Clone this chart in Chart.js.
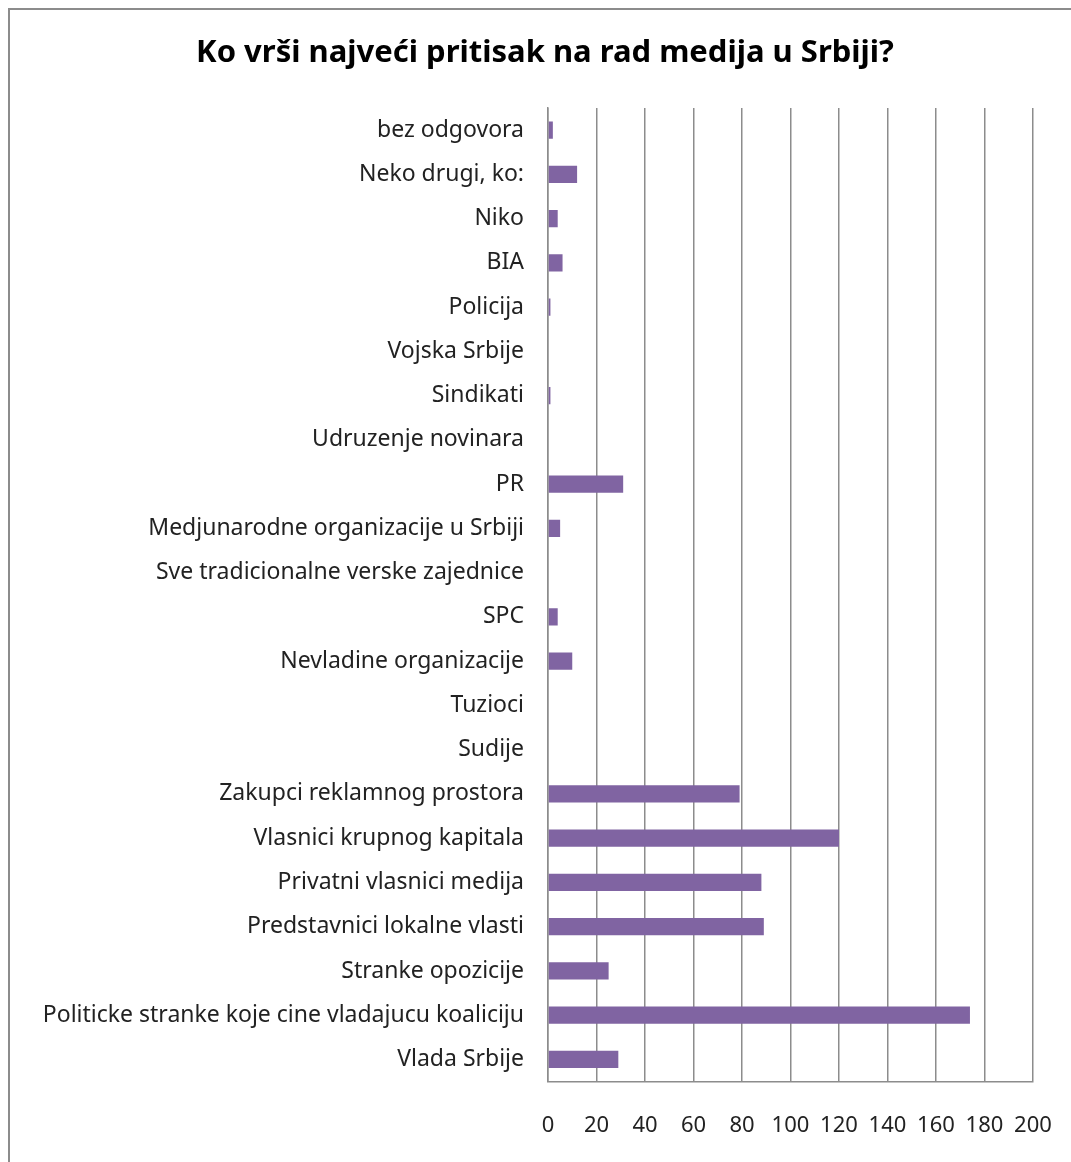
<!DOCTYPE html>
<html>
<head>
<meta charset="utf-8">
<script src="https://cdn.jsdelivr.net/npm/chart.js@4.4.0/dist/chart.umd.min.js"></script>
<style>
  html, body { margin: 0; padding: 0; background: #fff; overflow: hidden; }
  #wrap { position: relative; width: 1071px; height: 1162px; overflow: hidden; }
  #frame { position: absolute; left: 8px; top: 8px; width: 1100px; height: 1200px; border: 2px solid #8c8c8c; box-sizing: border-box; }
  canvas { position: absolute; left: 0; top: 0; }
</style>
</head>
<body>
<div id="wrap">
  <div id="frame"></div>
  <canvas id="chart" width="1071" height="1170"></canvas>
</div>
<script>
// kategorije (odozgo nadole, kao na slici)
const categories = [
  'bez odgovora',
  'Neko drugi, ko:',
  'Niko',
  'BIA',
  'Policija',
  'Vojska Srbije',
  'Sindikati',
  'Udruzenje novinara',
  'PR',
  'Medjunarodne organizacije u Srbiji',
  'Sve tradicionalne verske zajednice',
  'SPC',
  'Nevladine organizacije',
  'Tuzioci',
  'Sudije',
  'Zakupci reklamnog prostora',
  'Vlasnici krupnog kapitala',
  'Privatni vlasnici medija',
  'Predstavnici lokalne vlasti',
  'Stranke opozicije',
  'Politicke stranke koje cine vladajucu koaliciju',
  'Vlada Srbije'
];
const values = [2, 12, 4, 6, 1, 0, 1, 0, 31, 5, 0, 4, 10, 0, 0, 79, 120, 88, 89, 25, 174, 29];
const xTicks = [0, 20, 40, 60, 80, 100, 120, 140, 160, 180, 200];
const chartTitle = 'Ko vrši najveći pritisak na rad medija u Srbiji?';

const labelFont = "'Noto Sans', sans-serif";

// naslov malo desno od sredine, kao u Excelu
const titlePlugin = {
    id: 'excelTitle',
    afterDraw(chart) {
        const ctx = chart.ctx;
        ctx.save();
        ctx.font = "bold 31px " + labelFont;
        ctx.fillStyle = '#000';
        ctx.textAlign = 'center';
        ctx.textBaseline = 'middle';
        ctx.fillText(chartTitle, 545, 53);
        ctx.restore();
    }
};

new Chart(document.getElementById('chart'), {
    type: 'bar',
    data: {
        labels: categories,
        datasets: [{
            data: values,
            backgroundColor: '#8064A2',
            borderWidth: 0,
            barPercentage: 0.39,
            categoryPercentage: 1
        }]
    },
    options: {
        indexAxis: 'y',
        responsive: false,
        animation: false,
        layout: {
            padding: { left: 30, right: 38, top: 108, bottom: 0 }
        },
        plugins: {
            legend: { display: false },
            tooltip: { enabled: false },
            title: { display: false }
        },
        scales: {
            x: {
                min: 0,
                max: 200,
                afterBuildTicks: function(scale) {
                    scale.ticks = xTicks.map(v => ({ value: v }));
                },
                afterFit: function(scale) {
                    scale.paddingLeft = 0;
                    scale.paddingRight = 0;
                },
                border: { display: true, color: '#8c8c8c', width: 1.5 },
                grid: { color: '#8c8c8c', lineWidth: 1.5, drawTicks: false },
                ticks: {
                    color: '#222',
                    padding: 31,
                    font: { family: labelFont, size: 22 }
                }
            },
            y: {
                afterFit: function(scale) {
                    scale.width = 518;
                },
                border: { display: true, color: '#8c8c8c', width: 1.5 },
                grid: { display: false, drawTicks: false },
                ticks: {
                    color: '#222',
                    padding: 24,
                    font: { family: labelFont, size: 23 }
                }
            }
        }
    },
    plugins: [titlePlugin]
});
</script>
</body>
</html>
